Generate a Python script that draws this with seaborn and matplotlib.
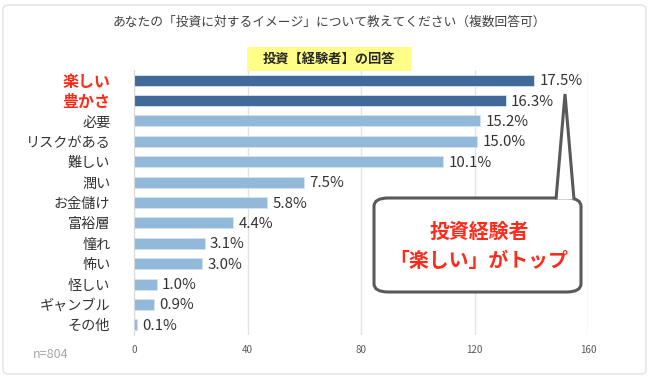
import numpy as np
import pandas as pd
import seaborn as sns
import matplotlib
matplotlib.use("Agg")
import matplotlib.pyplot as plt
from matplotlib.patches import Rectangle, FancyBboxPatch, Polygon


# data
items = ['楽しい', '豊かさ', '必要', 'リスクがある', '難しい', '潤い', 'お金儲け',
         '富裕層', '憧れ', '怖い', '怪しい', 'ギャンブル', 'その他']
counts = [141, 131, 122, 121, 109, 60, 47, 35, 25, 24, 8, 7, 1]
pct_labels = ['17.5%', '16.3%', '15.2%', '15.0%', '10.1%', '7.5%', '5.8%',
              '4.4%', '3.1%', '3.0%', '1.0%', '0.9%', '0.1%']
groups = ['top', 'top'] + ['other'] * 11
x_ticks = [0, 40, 80, 120, 160]

title = 'あなたの「投資に対するイメージ」について教えてください（複数回答可）'
subtitle = '投資【経験者】の回答'
callout = '投資経験者\n「楽しい」がトップ'
note = 'n=804'

W, H = 650, 378


def px(x, y):
    '''pixel position (top-left origin) -> figure fraction'''
    return x / W, 1 - y / H


sns.set_style('white')
plt.rcParams['font.family'] = ['Noto Sans CJK JP', 'DejaVu Sans']

df = pd.DataFrame({'item': items, 'count': counts, 'group': groups})

fig = plt.figure(figsize=(6.5, 3.78), dpi=100)
l, b = px(134, 335)
r, t = px(588, 70)
ax = fig.add_axes([l, b, r - l, t - b])

sns.barplot(data=df, x='count', y='item', hue='group', dodge=False,
            palette={'top': '#41699a', 'other': '#92b8da'},
            width=0.54, legend=False, ax=ax, saturation=1,
            edgecolor='#d6e4f1', linewidth=0.6)

ax.set_xlim(0, 160)
ax.set_ylim(len(items) - 0.5, -0.5)
ax.set_xticks(x_ticks)
ax.set_xlabel('')
ax.set_ylabel('')
ax.xaxis.grid(True, color='#e3e3e3', lw=1)
ax.set_axisbelow(True)
for s in ['top', 'right', 'bottom']:
    ax.spines[s].set_visible(False)
ax.spines['left'].set_color('#d9d9d9')
ax.tick_params(axis='x', length=0, pad=7, labelsize=7, labelcolor='#595959')
ax.tick_params(axis='y', length=0, pad=17, labelsize=10.2, labelcolor='#333333')
ax.set_yticks(np.arange(len(items) + 1) - 0.5, minor=True)
ax.tick_params(axis='y', which='minor', length=3, color='#d9d9d9')

for i, lab in enumerate(ax.get_yticklabels()):
    if groups[i] == 'top':
        lab.set_color('#ff2a1a')
        lab.set_fontweight('bold')
        lab.set_fontsize(11.5)

for i, (c, p) in enumerate(zip(counts, pct_labels)):
    ax.text(c + 1.8, i + 0.05, p, va='center', ha='left', fontsize=10.8,
            color='#333333')

# outer frame
fig.patches.append(FancyBboxPatch(px(3, 374), 643 / W, 369 / H,
                                  boxstyle='round,pad=0,rounding_size=0.01',
                                  transform=fig.transFigure, fc='none',
                                  ec='#e2e2e2', lw=1))

fig.text(*px(329, 22), title, ha='center', va='center', fontsize=9.2,
         color='#404040')

fig.patches.append(Rectangle(px(247, 71), 164 / W, 24 / H,
                             transform=fig.transFigure, fc='#ffff88', ec='none'))
fig.text(*px(329, 59), subtitle, ha='center', va='center', fontsize=9.5,
         fontweight='bold', color='#262626')

fig.text(*px(33, 355), note, ha='left', va='center', fontsize=9,
         color='#a6a6a6')

# speech bubble
fig.patches.append(FancyBboxPatch(px(374, 292), 207 / W, 94 / H,
                                  boxstyle='round,pad=0,rounding_size=0.022',
                                  transform=fig.transFigure, fc='white',
                                  ec='#595959', lw=2.2, zorder=5))
fig.patches.append(Polygon([px(556, 199.5), px(565, 94), px(574, 199.5)],
                           closed=False, transform=fig.transFigure,
                           fc='white', ec='#595959', lw=2.2, zorder=6,
                           joinstyle='miter'))
fig.text(*px(479, 246), callout, ha='center', va='center', fontsize=14.3,
         fontweight='bold', color='#ff2a1a', linespacing=1.5, zorder=7)

fig.savefig('out.png', dpi=100)
